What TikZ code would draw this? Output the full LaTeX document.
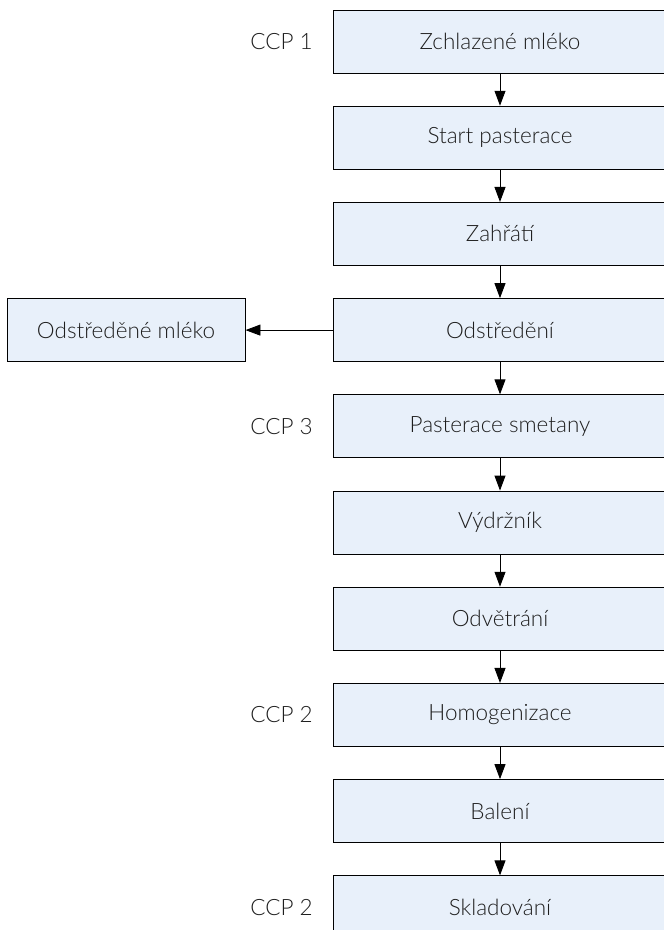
\documentclass[tikz,border=0pt]{standalone}
\usepackage{fontspec}
\setmainfont{Lato Light}
\usetikzlibrary{arrows.meta}
\definecolor{boxfill}{HTML}{E8F0FA}
\definecolor{txt}{HTML}{1E1E1E}
\tikzset{
  lbl/.style={text=txt, font=\fontsize{22.5}{26}\selectfont},
  stepbox/.style={lbl, draw=black, line width=0.9pt, fill=boxfill, minimum width=334pt, minimum height=63pt, inner sep=0pt},
  sidebox/.style={lbl, draw=black, line width=0.9pt, fill=boxfill, minimum width=238pt, minimum height=63pt, inner sep=0pt},
  ccp/.style={lbl, anchor=east, inner sep=0pt},
  flow/.style={line width=0.9pt, -{Triangle[width=11pt,length=15pt]}}
}
\begin{document}
\begin{tikzpicture}[x=1pt,y=1pt]
\useasboundingbox (0,0) rectangle (664,-930);
\foreach \i/\t in {0/Zchlazené mléko,1/Start pasterace,2/Zahřátí,3/Odstředění,4/Pasterace smetany,5/Výdržník,6/Odvětrání,7/Homogenizace,8/Balení,9/Skladování}{
  \node[stepbox] (b\i) at (500,{-41.5-96.2*\i}) {\t};
}
\foreach \i [evaluate=\i as \j using int(\i+1)] in {0,...,8}{
  \draw[flow] (b\i.south) -- (b\j.north);
}
\node[sidebox] (side) at (126,{-41.5-96.2*3}) {Odstředěné mléko};
\draw[flow] (b3.west) -- (side.east);
\node[ccp] (c1) at (313,{-41.5}) {CCP 1};
\node[ccp] (c3) at (313,{-41.5-96.2*4}) {CCP 3};
\node[ccp] (c2a) at (313,{-41.5-96.2*7}) {CCP 2};
\node[ccp] (c2b) at (313,{-41.5-96.2*9}) {CCP 2};
\end{tikzpicture}
\end{document}
